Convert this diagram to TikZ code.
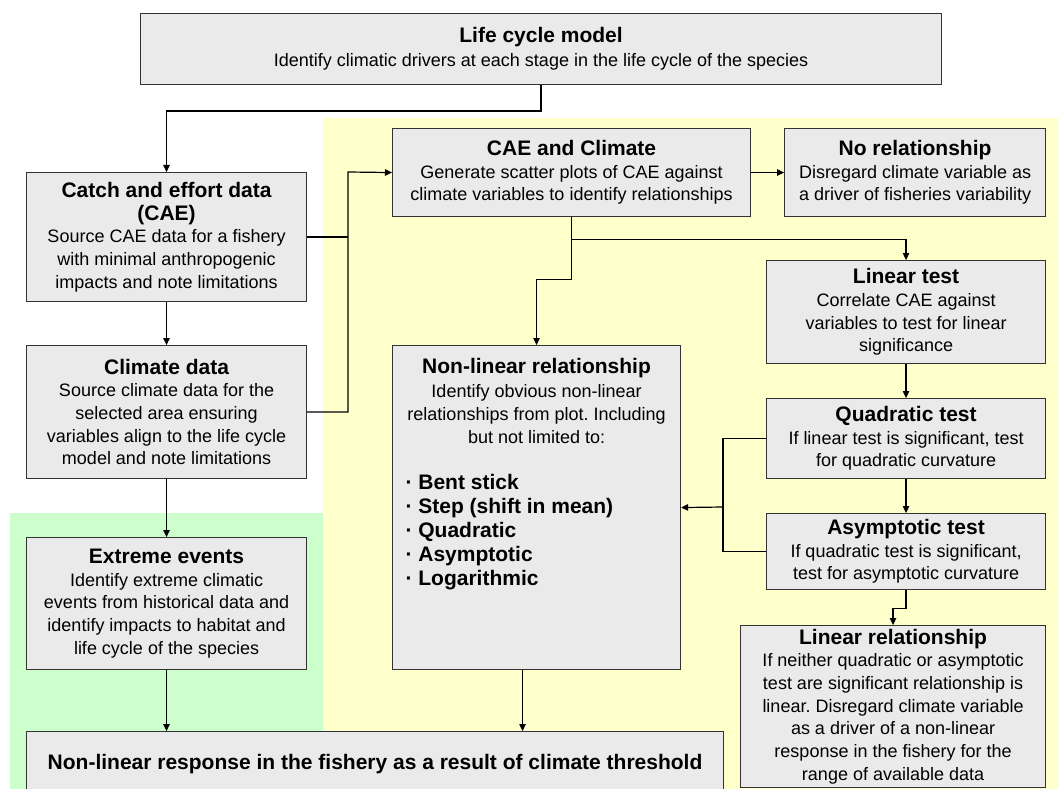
\documentclass[tikz,border=0pt]{standalone}
\usepackage{fontspec}
\setmainfont{Liberation Sans}
\usetikzlibrary{arrows.meta}
\frenchspacing

\definecolor{boxgray}{RGB}{234,234,234}
\definecolor{bgyellow}{RGB}{255,255,204}
\definecolor{bggreen}{RGB}{204,255,204}

\newcommand{\ttl}{\fontsize{21}{24}\selectfont\bfseries}
\newcommand{\bdy}{\fontsize{18}{22.7}\selectfont}

\begin{document}
\begin{tikzpicture}[x=1pt, y=-1pt,
    stagebase/.style={draw=black!80, line width=1.1pt, fill=boxgray, anchor=north west,
        inner sep=0pt, font=\bdy},
    stage/.style={stagebase, align=center},
    link/.style={line width=1.2pt},
    arr/.style={link, -{Triangle[length=7pt,width=6.5pt]}}]

    \path[use as bounding box] (0,0) rectangle (1058,789);
    \clip (0,0) rectangle (1058,789);

    % Shaded areas behind the boxes
    \fill[bgyellow] (323,118) rectangle (1058,789);
    \fill[bggreen] (9.5,513) rectangle (323,789);

    % A box from its corners:
    % #1 ... name, #2 #3 ... left top, #4 #5 ... right bottom, #6 ... text
    \def\stagebox#1#2#3#4#5#6{
        \node[stage, minimum width={#4-#2}, minimum height={#5-#3}] (#1) at (#2,#3) {#6};
    }

    \stagebox{life}{140}{13}{941}{84}{{\ttl Life cycle model}\\[1pt]
        Identify climatic drivers at each stage in the life cycle of the species}
    \stagebox{catch}{26}{172}{306}{301}{{\ttl Catch and effort data}\\{\ttl (CAE)}\\
        Source CAE data for a fishery\\with minimal anthropogenic\\impacts and note limitations}
    \stagebox{climate}{26}{345}{306}{478}{{\ttl Climate data}\\Source climate data for the\\
        selected area ensuring\\variables align to the life cycle\\model and note limitations}
    \stagebox{extreme}{26}{537}{306}{669}{{\ttl Extreme events}\\Identify extreme climatic\\
        events from historical data and\\identify impacts to habitat and\\life cycle of the species}
    \stagebox{response}{26}{731}{723}{797}{{\ttl Non-linear response in the fishery as a result of climate threshold}}
    \stagebox{caeclim}{392}{128}{750}{216}{{\ttl CAE and Climate}\\Generate scatter plots of CAE against\\
        climate variables to identify relationships}
    \stagebox{norel}{784}{128}{1045}{216}{{\ttl No relationship}\\Disregard climate variable as\\
        a driver of fisheries variability}
    \stagebox{lintest}{766}{260}{1045}{363}{{\ttl Linear test}\\Correlate CAE against\\
        variables to test for linear\\significance}
    \stagebox{quadtest}{766}{398}{1045}{478}{{\ttl Quadratic test}\\If linear test is significant, test\\
        for quadratic curvature}
    \stagebox{asymtest}{766}{513}{1045}{589}{{\ttl Asymptotic test}\\If quadratic test is significant,\\
        test for asymptotic curvature}
    \stagebox{linrel}{740}{625}{1045}{787}{{\ttl Linear relationship}\\If neither quadratic or asymptotic\\
        test are significant relationship is\\linear. Disregard climate variable\\as a driver of a non-linear\\
        response in the fishery for the\\range of available data}

    % The non-linear box has its text at the top
    \node[stagebase] (nonlin) at (392,345) {\parbox[t][324pt][t]{288pt}{%
        \vspace*{13pt}\centering
        {\ttl Non-linear relationship\par}
        \vspace{1.3pt}
        Identify obvious non-linear\\relationships from plot. Including\\but not limited to:\par
        \vspace{22.7pt}
        \raggedright\leftskip=13pt
        {\ttl · Bent stick\\· Step (shift in mean)\\· Quadratic\\· Asymptotic\\· Logarithmic\par}}};

    % Connectors
    \draw[arr] (life.south) -- ++(0,26) -| (catch.north);
    \draw[arr] (catch.south) -- (climate.north);
    \draw[arr] (climate.south) -- (extreme.north);
    \draw[arr] (extreme.south) -- (extreme.south |- response.north);

    \coordinate (bus) at (348,172);
    \draw[link] (catch.east) -- (catch.east -| bus);
    \draw[arr] (climate.east) -| (bus) -- (caeclim.west);

    \draw[arr] (caeclim.east) -- (norel.west);
    \draw[arr] (caeclim.south) -- ++(0,22.5) -| (lintest.north);
    \draw[arr] (caeclim.south) -- ++(0,62.5) -| (nonlin.north);
    \draw[arr] (lintest.south) -- (quadtest.north);
    \draw[arr] (quadtest.south) -- (asymtest.north);

    \coordinate (merge) at (723,507);
    \draw[link] (quadtest.west) -| (merge);
    \draw[link] (asymtest.west) -| (merge);
    \draw[arr] (merge) -- (nonlin.east);

    \draw[arr] (asymtest.south) -- ++(0,18) -| (linrel.north);
    \draw[arr] ([xshift=-14pt]nonlin.south) -- ([xshift=-14pt]nonlin.south |- response.north);

\end{tikzpicture}
\end{document}
